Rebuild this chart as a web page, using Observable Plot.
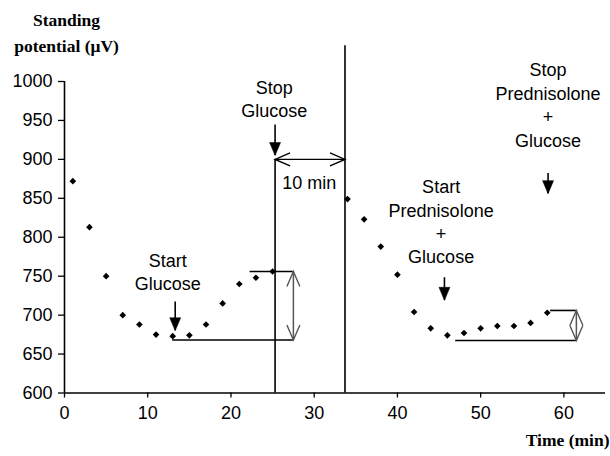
<!DOCTYPE html>
<html>
<head>
<meta charset="utf-8">
<script src="https://cdn.jsdelivr.net/npm/d3@7"></script>
<script src="https://cdn.jsdelivr.net/npm/@observablehq/plot@0.6"></script>
<style>
  html, body { margin: 0; padding: 0; background: #fff; }
  #chart svg { display: block; }
</style>
</head>
<body>
<div id="chart"></div>
<script>
// ---- data ----
const glucoseTime  = [1, 3, 5, 7, 9, 11, 13, 15, 17, 19, 21, 23, 25];
const glucoseValue = [872, 813, 750, 700, 688, 675, 673, 674, 688, 715, 740, 748, 756];
const prednisoloneTime  = [34, 36, 38, 40, 42, 44, 46, 48, 50, 52, 54, 56, 58];
const prednisoloneValue = [849, 823, 788, 752, 704, 683, 674, 677, 683, 686, 686, 690, 703];

const xTicks = [0, 10, 20, 30, 40, 50, 60];
const yTicks = [600, 650, 700, 750, 800, 850, 900, 950, 1000];
const xDomain = [0, 65];
const yDomain = [600, 1000];

// event annotations (time in min, value in µV)
const eventLabels = ["Start\nGlucose", "Stop\nGlucose", "Start\nPrednisolone\n+\nGlucose", "Stop\nPrednisolone\n+\nGlucose"];
const eventLabelTime  = [12.4, 25.2, 45.25, 58.1];
const eventLabelValue = [757, 979, 821, 971];
const eventArrowTime  = [13.3, 25.3, 45.65, 58.1];
const eventArrowFrom  = [717, 944, 748, 882];
const eventArrowTo    = [680, 905, 719, 856];

// vertical event lines
const lineTime = [25.3, 33.7];
const lineTop  = [900, 1046];

// "10 min" interval
const intervalLabel = "10 min";
const intervalFrom = 25.3, intervalTo = 33.7, intervalValue = 900;
const intervalLabelTime = 29.4, intervalLabelValue = 869;

// response brackets (baseline, peak, double arrow)
const bracketBase      = [668, 667.5];
const bracketBaseFrom  = [13, 47];
const bracketTop       = [756, 706];
const bracketTopFrom   = [22.3, 58.4];
const bracketArrowTime = [27.5, 61.5];

const yLabel = "Standing\npotential (\u03bcV)";
const xLabel = "Time (min)";

// ---- tables built from the arrays ----
const points = [
  ...glucoseTime.map((t, i) => ({time: t, value: glucoseValue[i]})),
  ...prednisoloneTime.map((t, i) => ({time: t, value: prednisoloneValue[i]}))
];
const events = eventLabels.map((label, i) => ({
  label, lx: eventLabelTime[i], ly: eventLabelValue[i],
  ax: eventArrowTime[i], from: eventArrowFrom[i], to: eventArrowTo[i]
}));
const vlines = lineTime.map((t, i) => ({time: t, top: lineTop[i]}));
const brackets = bracketBase.map((b, i) => ({
  base: b, baseFrom: bracketBaseFrom[i], top: bracketTop[i], topFrom: bracketTopFrom[i], ax: bracketArrowTime[i]
}));
const hSegments = [
  ...brackets.map(b => ({y: b.base, x1: b.baseFrom, x2: b.ax})),
  ...brackets.map(b => ({y: b.top, x1: b.topFrom, x2: b.ax}))
];
const openHeads = [
  {x: intervalFrom, y: intervalValue, rot: -90, c: "black"},
  {x: intervalTo, y: intervalValue, rot: 90, c: "black"},
  ...brackets.flatMap(b => [
    {x: b.ax, y: b.top, rot: 0, c: "#555"},
    {x: b.ax, y: b.base, rot: 180, c: "#555"}
  ])
];

// custom symbols
const filledHead = { draw(ctx) { ctx.moveTo(0, 0); ctx.lineTo(-5.5, -13); ctx.lineTo(5.5, -13); ctx.closePath(); } };
const openHead = { draw(ctx) { ctx.moveTo(-6.5, 15); ctx.lineTo(0, 0); ctx.lineTo(6.5, 15); } };

const sans = "'Liberation Sans', Arial, Helvetica, sans-serif";
const serif = "'Liberation Serif', 'Times New Roman', serif";

const chart = Plot.plot({
  width: 610,
  height: 456,
  marginLeft: 64,
  marginRight: 5,
  marginTop: 81,
  marginBottom: 63.5,
  style: {fontFamily: sans, fontSize: "18px", color: "black", background: "white", overflow: "visible"},
  x: {domain: xDomain},
  y: {domain: yDomain},
  marks: [
    Plot.axisY({ticks: yTicks, tickFormat: d => String(d), tickSize: 6, tickPadding: 6, label: null, fontSize: 18, strokeWidth: 1.3}),
    Plot.axisX({ticks: xTicks, tickFormat: d => String(d), tickSize: 5, tickPadding: 8, label: null, fontSize: 18, strokeWidth: 1.3}),
    Plot.ruleX([xDomain[0]], {strokeWidth: 1.6}),
    Plot.ruleY([yDomain[0]], {strokeWidth: 1.6}),
    // event vertical lines
    Plot.ruleX(vlines, {x: "time", y1: yDomain[0], y2: "top", strokeWidth: 1.6}),
    // brackets
    Plot.ruleY(hSegments, {y: "y", x1: "x1", x2: "x2", strokeWidth: 1.6}),
    Plot.ruleX(brackets, {x: "ax", y1: "base", y2: "top", stroke: "#555", strokeWidth: 1.5}),
    // 10 min interval
    Plot.ruleY([intervalValue], {x1: intervalFrom, x2: intervalTo, strokeWidth: 1.3}),
    Plot.dot(openHeads, {x: "x", y: "y", rotate: "rot", symbol: openHead, fill: "none", stroke: "c", strokeWidth: 1.4}),
    Plot.text([intervalLabel], {x: intervalLabelTime, y: intervalLabelValue, text: d => d, fontSize: 18}),
    // event arrows
    Plot.ruleX(events, {x: "ax", y1: "from", y2: "to", strokeWidth: 1.6}),
    Plot.dot(events, {x: "ax", y: "to", symbol: filledHead, fill: "black", stroke: "black", strokeWidth: 0.5}),
    Plot.text(events, {x: "lx", y: "ly", text: "label", lineHeight: 1.3, lineAnchor: "middle", fontSize: 18}),
    // data points
    Plot.dot(points, {x: "time", y: "value", symbol: "diamond2", r: 3, fill: "black", stroke: "none"}),
    // axis titles
    Plot.text([yLabel], {text: d => d, frameAnchor: "top-left", dx: 2, dy: -50.5, textAnchor: "middle", lineAnchor: "middle",
      lineHeight: 1.45, fontFamily: serif, fontWeight: "bold", fontSize: 17.5}),
    Plot.text([xLabel], {text: d => d, frameAnchor: "bottom-right", dx: 4, dy: 47.5, textAnchor: "end", lineAnchor: "middle",
      fontFamily: serif, fontWeight: "bold", fontSize: 17.5})
  ]
});
document.getElementById("chart").appendChild(chart);
</script>
</body>
</html>
